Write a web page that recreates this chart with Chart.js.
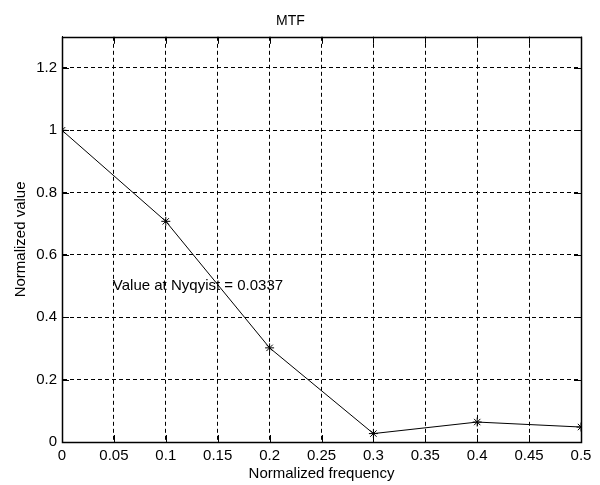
<!DOCTYPE html>
<html>
<head>
<meta charset="utf-8">
<script src="https://cdn.jsdelivr.net/npm/chart.js@4/dist/chart.umd.min.js"></script>
<style>
    html, body { margin: 0; padding: 0; background: #ffffff; }
    canvas { display: block; }
</style>
</head>
<body>
<canvas id="mtf" width="600" height="485"></canvas>
<script>
// valores
const frecuencias = [0, 0.1, 0.2, 0.3, 0.4, 0.5];
const mtf = [1, 0.708, 0.302, 0.027, 0.064, 0.048];
const ticksX = [0, 0.05, 0.1, 0.15, 0.2, 0.25, 0.3, 0.35, 0.4, 0.45, 0.5];
const ticksY = [0, 0.2, 0.4, 0.6, 0.8, 1, 1.2];
const nota = 'Value at Nyqyist = 0.0337';
const notaX = 0.049;
const notaY = 0.5;

const fuente = 'Arial, "Liberation Sans", sans-serif';

// marco completo + marcas de division hacia dentro + texto de la nota
const marcoPlugin = {
    id: 'marco',
    afterDraw(chart) {
        const { ctx, chartArea: a, scales } = chart;
        const largo = 7;
        ctx.save();
        ctx.strokeStyle = '#000';
        ctx.lineWidth = 1;
        ctx.setLineDash([]);
        ctx.beginPath();
        scales.x.ticks.forEach(t => {
            const px = Math.round(scales.x.getPixelForValue(t.value)) + 0.5;
            ctx.moveTo(px, a.bottom); ctx.lineTo(px, a.bottom - largo);
            ctx.moveTo(px, a.top); ctx.lineTo(px, a.top + largo);
        });
        scales.y.ticks.forEach(t => {
            const py = Math.round(scales.y.getPixelForValue(t.value)) + 0.5;
            ctx.moveTo(a.left, py); ctx.lineTo(a.left + largo, py);
            ctx.moveTo(a.right, py); ctx.lineTo(a.right - largo, py);
        });
        ctx.stroke();
        ctx.lineWidth = 1.5;
        ctx.strokeRect(Math.round(a.left) + 0.5, Math.round(a.top) + 0.5,
            Math.round(a.right - a.left), Math.round(a.bottom - a.top));

        ctx.fillStyle = '#000';
        ctx.font = '15px ' + fuente;
        ctx.textAlign = 'left';
        ctx.textBaseline = 'middle';
        ctx.fillText(nota, scales.x.getPixelForValue(notaX), scales.y.getPixelForValue(notaY));
        ctx.restore();
    }
};

const rejilla = {
    color: '#000',
    lineWidth: 1,
    drawTicks: false
};

new Chart(document.getElementById('mtf'), {
    type: 'line',
    data: {
        datasets: [
            {
                data: frecuencias.map((f, i) => ({ x: f, y: mtf[i] })),
                borderColor: '#000',
                borderWidth: 1,
                backgroundColor: '#000',
                pointStyle: 'star',
                pointRadius: 4.5,
                pointBorderColor: '#000',
                pointBorderWidth: 1,
                tension: 0,
                fill: false
            }
        ]
    },
    options: {
        responsive: false,
        devicePixelRatio: 1,
        animation: false,
        layout: { padding: { top: 0, right: 19, left: 0, bottom: 0 } },
        plugins: {
            legend: { display: false },
            tooltip: { enabled: false },
            title: {
                display: true,
                text: 'MTF',
                color: '#000',
                font: { family: fuente, size: 14, weight: 'normal', lineHeight: 1.2 },
                padding: { top: 13, bottom: 7 }
            }
        },
        scales: {
            x: {
                type: 'linear',
                min: 0,
                max: 0.5,
                afterBuildTicks: (s) => { s.ticks = ticksX.map(v => ({ value: v })); },
                afterFit: (s) => { s.height = 43; },
                grid: rejilla,
                border: { display: true, color: '#000', width: 1, dash: [4, 3] },
                ticks: {
                    color: '#000',
                    padding: 5,
                    maxRotation: 0,
                    autoSkip: false,
                    font: { family: fuente, size: 15 },
                    callback: (v) => String(v)
                },
                title: {
                    display: true,
                    text: 'Normalized frequency',
                    color: '#000',
                    font: { family: fuente, size: 15, lineHeight: 1.2 },
                    padding: { top: 0, bottom: 2 }
                }
            },
            y: {
                min: 0,
                max: 1.3,
                afterBuildTicks: (s) => { s.ticks = ticksY.map(v => ({ value: v })); },
                afterFit: (s) => { s.width = 62; },
                grid: rejilla,
                border: { display: true, color: '#000', width: 1, dash: [4, 3] },
                ticks: {
                    color: '#000',
                    padding: 5,
                    autoSkip: false,
                    font: { family: fuente, size: 15 },
                    callback: (v) => String(v)
                },
                title: {
                    display: true,
                    text: 'Normalized value',
                    color: '#000',
                    font: { family: fuente, size: 15, lineHeight: 1.2 },
                    padding: { top: 12, bottom: 0 }
                }
            }
        }
    },
    plugins: [marcoPlugin]
});
</script>
</body>
</html>
